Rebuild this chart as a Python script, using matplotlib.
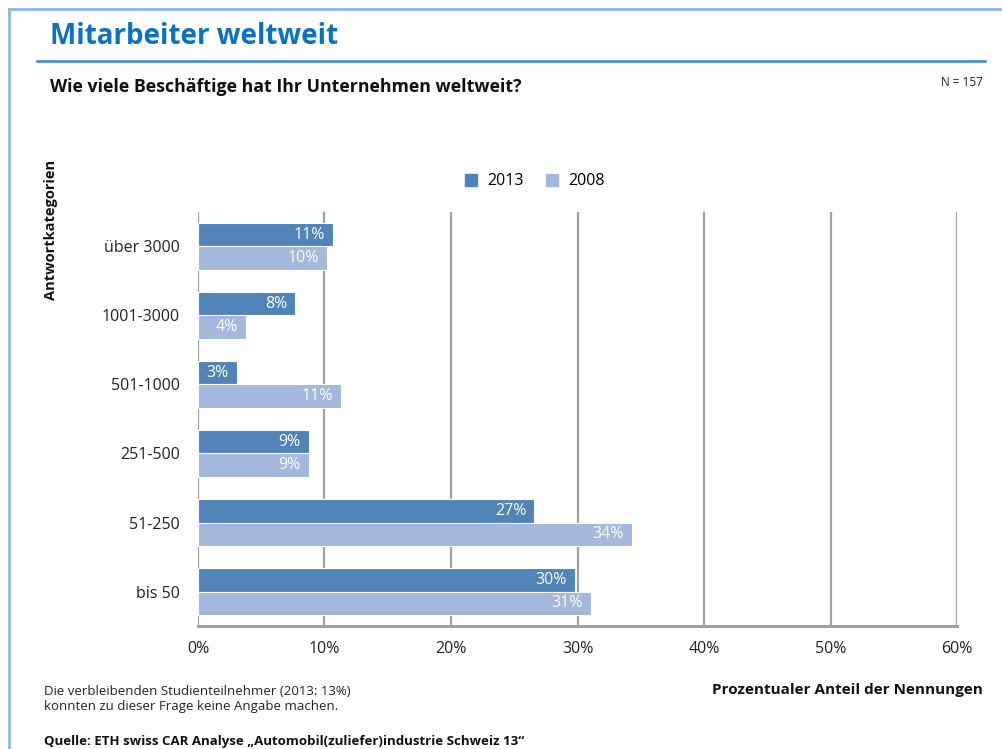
import numpy as np
import matplotlib
matplotlib.use('Agg')
import matplotlib.pyplot as plt
from matplotlib.lines import Line2D

categories = ['bis 50', '51-250', '251-500', '501-1000', '1001-3000', 'über 3000']
share_2013 = [29.8, 26.6, 8.8, 3.1, 7.7, 10.7]
share_2008 = [31.1, 34.3, 8.8, 11.3, 3.8, 10.2]
x_ticks = [0, 10, 20, 30, 40, 50, 60]

c2013 = '#5083B8'
c2008 = '#A3B8DA'
grid_col = '#A0A0A0'
title_blue = '#0B72C3'

plt.rcParams['font.family'] = ['Open Sans', 'DejaVu Sans']

fig = plt.figure(figsize=(10.02, 7.49), dpi=100)
ax = fig.add_axes([0.1976, 0.1642, 0.7575, 0.5528])

y = np.arange(len(categories))
h = 0.34
bars13 = ax.barh(y + h / 2, share_2013, height=h, color=c2013, edgecolor='white', linewidth=0.8, zorder=3)
bars08 = ax.barh(y - h / 2, share_2008, height=h, color=c2008, edgecolor='white', linewidth=0.8, zorder=3)

for bars, vals in ((bars13, share_2013), (bars08, share_2008)):
    for bar, v in zip(bars, vals):
        ax.annotate(f'{v:.0f}%', xy=(v, bar.get_y() + bar.get_height() / 2),
                    xytext=(-6, 0), textcoords='offset points',
                    ha='right', va='center', color='white', fontsize=11.5, zorder=4)

ax.set_xlim(0, 60)
ax.set_ylim(-0.5, 5.5)
ax.set_xticks(x_ticks)
ax.set_xticklabels([f'{t}%' for t in x_ticks], fontsize=11.5, color='#222222')
ax.set_yticks(y)
ax.set_yticklabels(categories, fontsize=11.5, color='#222222')
ax.tick_params(length=0)
ax.tick_params(axis='x', pad=11)
ax.tick_params(axis='y', pad=13)
ax.grid(axis='x', color=grid_col, linewidth=1.6, zorder=1)
for side in ('top', 'right', 'left'):
    ax.spines[side].set_visible(False)
ax.spines['bottom'].set_color(grid_col)
ax.spines['bottom'].set_linewidth(2.2)

# legend
handles = [Line2D([], [], marker='s', linestyle='none', markersize=8, color=c2013),
           Line2D([], [], marker='s', linestyle='none', markersize=8, color=c2008)]
fig.legend(handles, ['2013', '2008'], loc='center', bbox_to_anchor=(0.529, 0.758),
           ncol=2, frameon=False, fontsize=11.5, handletextpad=0.0, columnspacing=0.8)

# page frame and header rule
fig.add_artist(Line2D([9 / 1002, 9 / 1002], [0, 1 - 9 / 749], color='#8DB6E8', linewidth=2))
fig.add_artist(Line2D([9 / 1002, 1], [1 - 9 / 749, 1 - 9 / 749], color='#8DB6E8', linewidth=2))
fig.add_artist(Line2D([37 / 1002, 985 / 1002], [1 - 61 / 749, 1 - 61 / 749], color='#2A8AD4', linewidth=1.8))

fig.text(50 / 1002, 1 - 37 / 749, 'Mitarbeiter weltweit', fontsize=20, fontweight='bold',
         color=title_blue, va='center', ha='left')
fig.text(50 / 1002, 1 - 87 / 749, 'Wie viele Beschäftige hat Ihr Unternehmen weltweit?',
         fontsize=12.8, fontweight='bold', color='#111111', va='center', ha='left')
fig.text(983 / 1002, 1 - 82 / 749, 'N = 157', fontsize=8.5, color='#222222', va='center', ha='right')
fig.text(51 / 1002, 1 - 230 / 749, 'Antwortkategorien', fontsize=10.5, fontweight='bold',
         rotation=90, va='center', ha='center', color='#111111')
fig.text(983 / 1002, 1 - 690 / 749, 'Prozentualer Anteil der Nennungen', fontsize=11,
         fontweight='bold', va='center', ha='right', color='#111111')
fig.text(44 / 1002, 1 - 699 / 749,
         'Die verbleibenden Studienteilnehmer (2013: 13%)\nkonnten zu dieser Frage keine Angabe machen.',
         fontsize=9.5, va='center', ha='left', color='#222222', linespacing=1.15)
fig.text(44 / 1002, 1 - 741 / 749, 'Quelle: ETH swiss CAR Analyse „Automobil(zuliefer)industrie Schweiz 13“',
         fontsize=9.5, fontweight='bold', va='center', ha='left', color='#111111')

fig.savefig('out.png', dpi=100)
